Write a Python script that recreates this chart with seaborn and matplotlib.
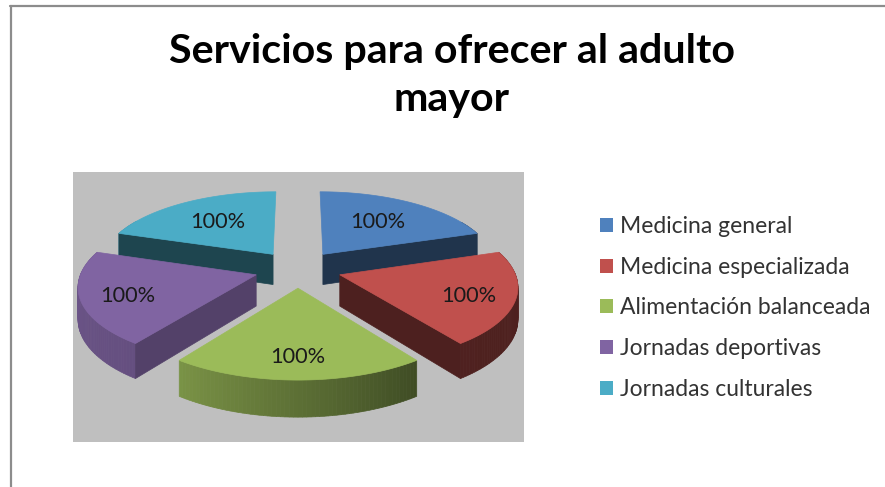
# ==========================================
# Servicios para ofrecer al adulto mayor
# ==========================================

import numpy as np
import matplotlib
matplotlib.use("Agg")
import matplotlib.pyplot as plt
from matplotlib.patches import Patch, Rectangle
import seaborn as sns

# -----------------------------
# Data
# -----------------------------
servicios = [
    "Medicina general",
    "Medicina especializada",
    "Alimentación balanceada",
    "Jornadas deportivas",
    "Jornadas culturales",
]
valores = [1, 1, 1, 1, 1]
etiquetas = ["100%", "100%", "100%", "100%", "100%"]
colores = ["#4f81bd", "#c0504d", "#9bbb59", "#8064a2", "#4bacc6"]

# -----------------------------
# Theme
# -----------------------------
sns.set_theme(style="white")
plt.rcParams["font.family"] = ["Lato", "DejaVu Sans"]
paleta = sns.color_palette(colores)

# perspective of the exploded pie
EXPLODE = 0.25
PERSP = 0.131
DEPTH = 0.417


def proyectar(theta, r, centro):
    # theta in degrees, clockwise from the top of the pie
    t = np.radians(theta)
    gx = centro[0] + r * np.sin(t)
    gy = centro[1] - r * np.cos(t)
    w = 1 / (1 - PERSP * gy)
    return gx * w, gy * w, w


def oscurecer(color, f):
    return tuple(c * f for c in color)


fig = plt.figure(figsize=(8.85, 4.87), dpi=100)
fig.patch.set_facecolor("white")

# chart frame, only top and left are inside the picture
fig.add_artist(plt.Line2D([10.5 / 885, 10.5 / 885], [0, 1 - 5.5 / 487], color="#8c8c8c", lw=1.6))
fig.add_artist(plt.Line2D([10 / 885, 1], [1 - 5.5 / 487, 1 - 5.5 / 487], color="#8c8c8c", lw=1.6))

fig.text(452 / 885, 1 - 52 / 487, "Servicios para ofrecer al adulto", ha="center", va="center",
         fontsize=29.7, fontweight="bold", color="black")
fig.text(452 / 885, 1 - 99 / 487, "mayor", ha="center", va="center",
         fontsize=29.7, fontweight="bold", color="black")

# -----------------------------
# Pie
# -----------------------------
ax = fig.add_axes([73 / 885, 1 - 442 / 487, 451 / 885, 270 / 487])
ax.set_facecolor("#bfbfbf")
ax.set_xlim(-1.293, 1.299)
ax.set_ylim(2.328, -1.305)
ax.set_xticks([])
ax.set_yticks([])
for s in ax.spines.values():
    s.set_visible(False)

bordes = np.cumsum([0] + valores) / sum(valores) * 360
cuñas = []
for i in range(len(valores)):
    t1, t2 = bordes[i], bordes[i + 1]
    medio = (t1 + t2) / 2
    m = np.radians(medio)
    centro = (EXPLODE * np.sin(m), -EXPLODE * np.cos(m))
    cuñas.append((centro[1], i, t1, t2, medio, centro))

recorte = Rectangle((-2, -2), 4, 3.238, transform=ax.transData)

# back slices first
for _, i, t1, t2, medio, centro in sorted(cuñas, key=lambda c: c[0]):
    color = paleta[i]
    arco = np.linspace(t1, t2, 61)
    ax_x, ax_y, ax_w = proyectar(0, 0, centro)
    ox, oy, ow = proyectar(arco, 1, centro)

    # outer wall, shaded strip by strip, the far part of the rim stays hidden
    luz = np.interp(arco, [72, 144, 216, 288], [0.40, 0.41, 0.79, 0.85])
    for k in range(len(arco) - 1):
        if np.cos(np.radians(arco[k])) > 0.5:
            continue
        xs = [ox[k], ox[k + 1], ox[k + 1], ox[k]]
        ys = [oy[k], oy[k + 1], oy[k + 1] + DEPTH * ow[k + 1], oy[k] + DEPTH * ow[k]]
        c = oscurecer(color, luz[k])
        ax.fill(xs, ys, color=c, lw=0.5)

    # side walls that face the viewer
    for borde, normal in ((t1, t1 - 90), (t2, t2 + 90)):
        if -np.cos(np.radians(normal)) > 1e-6:
            bx, by, bw = proyectar(borde, 1, centro)
            xs = [ax_x, bx, bx, ax_x]
            ys = [ax_y, by, by + DEPTH * bw, ax_y + DEPTH * ax_w]
            f = np.interp(normal % 360, [126, 162, 234], [0.65, 0.40, 0.40])
            ax.fill(xs, ys, color=oscurecer(color, f), lw=0.5)

    # top face
    ax.fill(np.r_[ax_x, ox], np.r_[ax_y, oy], color=color, lw=0.5)

    # value label, further out on the front slices
    if centro[1] > 0:
        lx, ly, _ = proyectar(medio, 0.74, centro)
        ly = ly + 0.05
    else:
        lx, ly, _ = proyectar(medio, 0.6, centro)
    txt = ax.text(lx, ly, etiquetas[i], ha="center", va="center", fontsize=15.7, color="#1a1a1a")
    txt.set_clip_path(recorte)

# -----------------------------
# Legend
# -----------------------------
handles = [Patch(facecolor=c, edgecolor="none") for c in paleta]
fig.legend(
    handles,
    servicios,
    loc="center left",
    bbox_to_anchor=(579.4 / 885, 1 - 308 / 487),
    frameon=False,
    fontsize=16.5,
    handlelength=0.57,
    handleheight=0.57,
    handletextpad=0.3,
    labelspacing=0.86,
    labelcolor="#333333",
)

plt.savefig("out.png", dpi=100)
